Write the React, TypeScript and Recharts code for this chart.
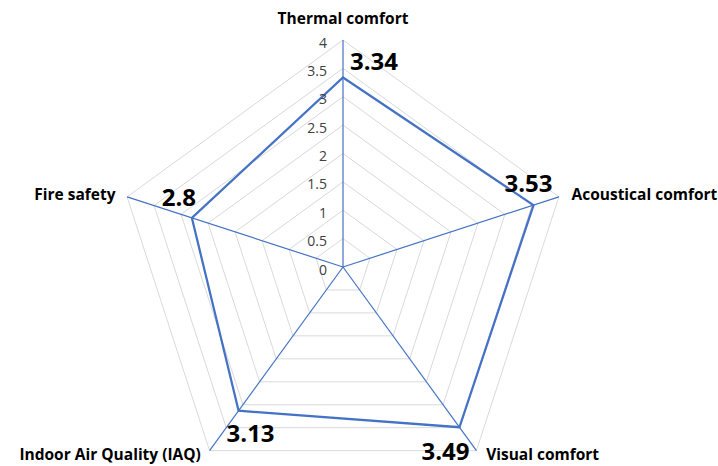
import { PolarAngleAxis, PolarGrid, PolarRadiusAxis, Radar, RadarChart } from 'recharts'

const categories = ['Thermal comfort', 'Acoustical comfort', 'Visual comfort', 'Indoor Air Quality (IAQ)', 'Fire safety']
const scores = [3.34, 3.53, 3.49, 3.13, 2.8]
const radiusTicks = [0, 0.5, 1, 1.5, 2, 2.5, 3, 3.5, 4]

const data = categories.map((name, i) => ({ name, score: scores[i] }))

// nudges for the big value labels, by category order
const labelNudge = [
  [31, -17],
  [-5, -23],
  [-14, 23],
  [12, 22],
  [-13, -21],
]

const BLUE = '#4472C4'
const FONT = '"Open Sans", Lato, sans-serif'
const CY = 267

function AngleTick(props: any) {
  const { x, y, payload, textAnchor } = props
  let dx = 0
  let dy = 0
  if (textAnchor === 'start') dx = 5
  else if (textAnchor === 'end') dx = -4
  else dy = -14
  // keep the two bottom labels inside the frame
  if (y > CY + 100) dy = -3
  return (
    <text
      x={x + dx}
      y={y + dy}
      textAnchor={textAnchor}
      dominantBaseline="central"
      fontFamily={FONT}
      fontWeight={700}
      fontSize={15.5}
      fill="#000"
    >
      {payload.value}
    </text>
  )
}

function RadiusTick(props: any) {
  const { x, y, payload } = props
  return (
    <text x={x - 16} y={y + 2} textAnchor="end" dominantBaseline="central" fontFamily={FONT} fontSize={14} fill="#404040">
      {payload.value}
    </text>
  )
}

function ValueLabel(props: any) {
  const { x, y, value, index } = props
  const [dx, dy] = labelNudge[index] ?? [0, 0]
  return (
    <text
      x={x + dx}
      y={y + dy}
      textAnchor="middle"
      dominantBaseline="central"
      fontFamily={FONT}
      fontWeight={700}
      fontSize={24}
      fill="#000"
    >
      {value}
    </text>
  )
}

export default function App() {
  return (
    <div style={{ width: 718, height: 466, background: '#fff' }}>
      <style>{'body{margin:0}'}</style>
      <RadarChart width={718} height={466} data={data} cx={343} cy={CY} outerRadius={227} margin={{ top: 0, right: 0, bottom: 0, left: 0 }}>
        <PolarGrid gridType="polygon" radialLines={false} stroke="#d9d9d9" strokeWidth={1} />
        <PolarGrid gridType="polygon" polarRadius={[]} stroke={BLUE} strokeWidth={1.2} />
        <PolarAngleAxis dataKey="name" tick={<AngleTick />} tickLine={false} axisLine={false} />
        <PolarRadiusAxis
          angle={90}
          domain={[0, 4]}
          ticks={radiusTicks as any}
          tickCount={9}
          tick={<RadiusTick />}
          axisLine={false}
          tickLine={false}
        />
        <Radar
          dataKey="score"
          stroke={BLUE}
          strokeWidth={2.25}
          fill="none"
          fillOpacity={0}
          dot={false}
          isAnimationActive={false}
          label={<ValueLabel />}
        />
      </RadarChart>
    </div>
  )
}
